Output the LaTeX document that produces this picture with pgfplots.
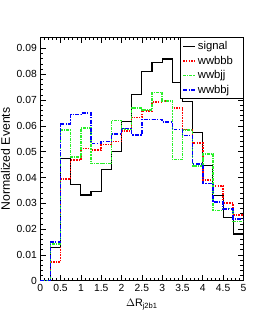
\documentclass[border=0pt]{standalone}
\usepackage{fontspec}
\setmainfont{Liberation Sans}
\setsansfont{Liberation Sans}
\usepackage{pgfplots}
\pgfplotsset{compat=1.18}
\definecolor{rgreen}{RGB}{40,240,40}
\definecolor{rred}{RGB}{255,0,0}
\definecolor{rblue}{RGB}{0,0,255}
\begin{document}
\begin{tikzpicture}
\useasboundingbox (-41pt,-38pt) rectangle (235pt,286pt);
\begin{axis}[
  scale only axis, width=207pt, height=248pt,
  xmin=0, xmax=5, ymin=0, ymax=0.0943,
  xtick={0,0.5,...,5}, ytick={0,0.01,...,0.09},
  minor x tick num=4, minor y tick num=4,
  tick align=inside, xtick pos=both, ytick pos=both,
  major tick length=6pt, minor tick length=3pt,
  axis line style={line width=0.8pt},
  every tick/.style={black, line width=0.6pt},
  scaled y ticks=false, scaled x ticks=false,
  /pgf/number format/assume math mode=true,
  yticklabel style={/pgf/number format/fixed, /pgf/number format/precision=2, font=\fontsize{10.5}{12}\selectfont},
  xticklabel style={/pgf/number format/fixed, font=\fontsize{10.5}{12}\selectfont},
  xlabel={$\Delta$R\textsubscript{j2b1}},
  ylabel={Normalized Events},
  xlabel style={font=\fontsize{11}{13}\selectfont, yshift=-1pt},
  ylabel style={font=\fontsize{12.5}{14}\selectfont},
  legend style={at={(1,1)}, anchor=north east, draw=black, line width=0.8pt, fill=white,
    font=\fontsize{11.5}{13}\selectfont, inner xsep=2pt, inner ysep=2pt, row sep=1pt},
  legend cell align=left,
  legend image code/.code={\draw[#1] (0pt,0pt) -- (12pt,0pt);},
  clip=true,
]
\addplot[const plot, black, line width=1.1pt] coordinates {
(0,0) (0.25,0.0129) (0.5,0.0473) (0.75,0.0374) (1.0,0.0332) (1.25,0.0346) (1.5,0.0431) (1.75,0.0501) (2.0,0.0617) (2.25,0.0720) (2.5,0.0812) (2.75,0.0845) (3.0,0.0859) (3.25,0.0767) (3.5,0.0695) (3.75,0.0573) (4.0,0.0448) (4.25,0.0330) (4.5,0.0244) (4.75,0.0181) (5.0,0.0181)};
\addlegendentry{\makebox[42pt][l]{signal}}
\addplot[const plot, rred, line width=1.6pt, dash pattern=on 1.5pt off 1.2pt] coordinates {
(0,0) (0.25,0.0073) (0.5,0.0395) (0.75,0.0467) (1.0,0.0513) (1.25,0.0507) (1.5,0.0527) (1.75,0.0539) (2.0,0.0579) (2.25,0.0632) (2.5,0.0658) (2.75,0.0692) (3.0,0.0697) (3.25,0.0670) (3.5,0.0585) (3.75,0.0533) (4.0,0.0390) (4.25,0.0368) (4.5,0.0300) (4.75,0.0254) (5.0,0.0254)};
\addlegendentry{wwbbb}
\addplot[const plot, rgreen, line width=1.6pt, dash pattern=on 3pt off 1pt on 1.2pt off 1pt] coordinates {
(0,0) (0.25,0.0142) (0.5,0.0583) (0.75,0.0479) (1.0,0.0592) (1.25,0.0454) (1.5,0.0454) (1.75,0.0621) (2.0,0.0587) (2.25,0.0669) (2.5,0.0661) (2.75,0.0729) (3.0,0.0697) (3.25,0.0469) (3.5,0.0583) (3.75,0.0445) (4.0,0.0490) (4.25,0.0272) (4.5,0.0280) (4.75,0.0230) (5.0,0.0230)};
\addlegendentry{wwbjj}
\addplot[const plot, rblue, line width=1.6pt, dash pattern=on 4pt off 1.5pt on 1.2pt off 1.5pt] coordinates {
(0,0) (0.25,0.0150) (0.5,0.0608) (0.75,0.0644) (1.0,0.0650) (1.25,0.0532) (1.5,0.0539) (1.75,0.0568) (2.0,0.0589) (2.25,0.0565) (2.5,0.0625) (2.75,0.0625) (3.0,0.0615) (3.25,0.0585) (3.5,0.0562) (3.75,0.0453) (4.0,0.0376) (4.25,0.0304) (4.5,0.0277) (4.75,0.0240) (5.0,0.0240)};
\addlegendentry{wwbbj}
\end{axis}
\end{tikzpicture}
\end{document}
